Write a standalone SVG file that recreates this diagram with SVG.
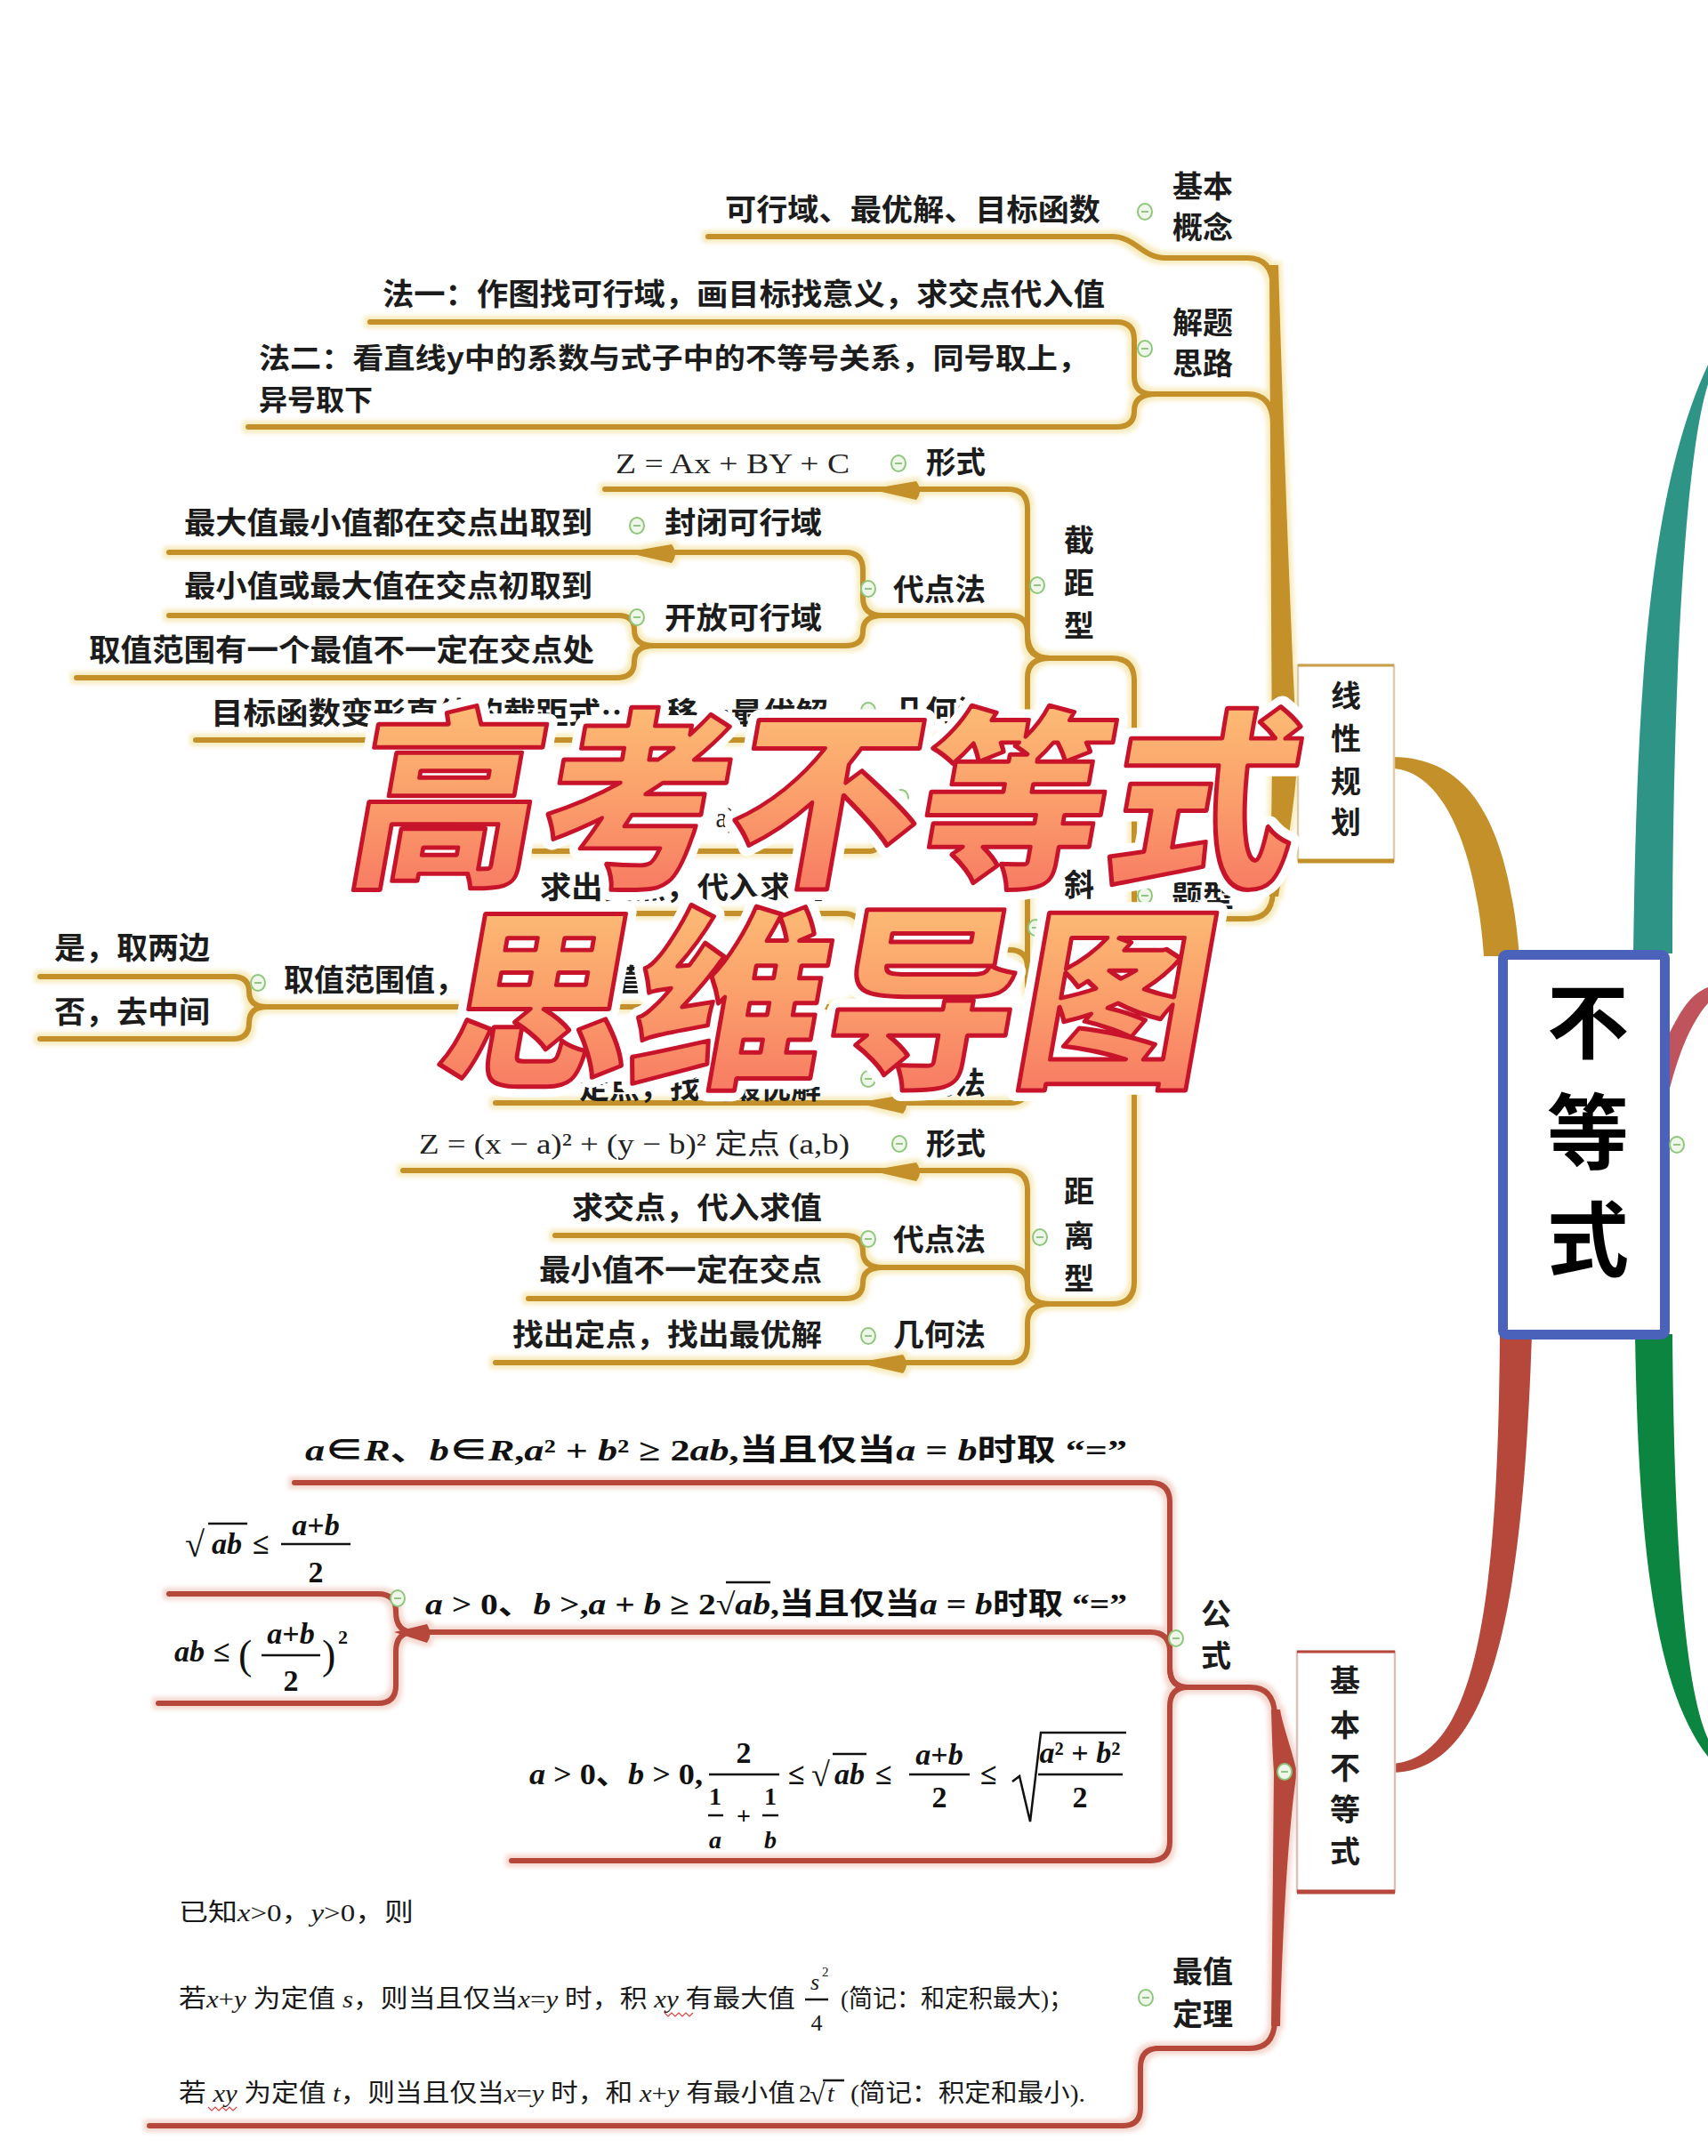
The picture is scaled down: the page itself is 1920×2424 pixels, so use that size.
<svg xmlns="http://www.w3.org/2000/svg" width="1920" height="2424" viewBox="0 0 1920 2424">
<defs>
<style>
.n{font-family:"Noto Sans CJK SC","Noto Sans CJK JP",sans-serif;font-weight:700;font-size:34px;fill:#1c1c1c}
.vc{text-anchor:middle}
.mt{font-family:"Liberation Serif","Noto Sans CJK SC",serif;font-size:32px;fill:#222}
.mb{font-family:"Liberation Serif","Noto Sans CJK SC",serif;font-weight:700;font-size:34px;fill:#111}
.sm{font-family:"Liberation Serif","Noto Sans CJK SC",serif;font-size:28px;fill:#1a1a1a}
.i{font-style:italic}
.gl path{fill:none;stroke:#c4902a;stroke-width:6;stroke-linecap:round;stroke-linejoin:round}
.rl path{fill:none;stroke:#b5473b;stroke-width:6;stroke-linecap:round;stroke-linejoin:round}
.gw path{fill:#c4902a}
.rw path{fill:#b5473b}
.ctr{font-family:"Noto Sans CJK SC",sans-serif;font-weight:700;font-size:92px;fill:#000;text-anchor:middle}
.tt{font-family:"Noto Sans CJK SC",sans-serif;font-weight:900;text-anchor:middle}
.ln{stroke:#111;stroke-width:2.5;fill:none}
</style>
<g id="cc"><ellipse rx="8" ry="9" fill="#eef7ea" stroke="#8ec77c" stroke-width="2"/><path d="M-4,0H4" stroke="#7fb86d" stroke-width="1.6"/></g>
<filter id="gG" x="-3%" y="-5%" width="106%" height="110%" color-interpolation-filters="sRGB">
<feMorphology in="SourceAlpha" operator="dilate" radius="4" result="d"/>
<feGaussianBlur in="d" stdDeviation="2.5" result="b"/>
<feFlood flood-color="#f7ebbd"/>
<feComposite in2="b" operator="in" result="c"/>
<feMerge><feMergeNode in="c"/><feMergeNode in="SourceGraphic"/></feMerge>
</filter>
<filter id="gR" x="-3%" y="-5%" width="106%" height="110%" color-interpolation-filters="sRGB">
<feMorphology in="SourceAlpha" operator="dilate" radius="4" result="d"/>
<feGaussianBlur in="d" stdDeviation="2.5" result="b"/>
<feFlood flood-color="#f4d8d0"/>
<feComposite in2="b" operator="in" result="c"/>
<feMerge><feMergeNode in="c"/><feMergeNode in="SourceGraphic"/></feMerge>
</filter>
<linearGradient id="tg" x1="0" y1="0" x2="0" y2="1">
<stop offset="0" stop-color="#fdcc7a"/>
<stop offset="0.5" stop-color="#fba26c"/>
<stop offset="1" stop-color="#f66e60"/>
</linearGradient>
</defs>
<rect width="1920" height="2424" fill="#fff"/>

<g id="connectors">
<g id="main-branches">
<path d="M1566,851 C1650,852 1695,920 1708,1075 L1668,1075 C1660,960 1625,868 1566,864 Z" fill="#c4902a"/>
<path d="M1836,1072 C1840,800 1850,560 1920,410 L1920,432 C1892,520 1880,800 1880,1072 Z" fill="#2e9486"/>
<path d="M1875,1165 C1890,1135 1900,1118 1920,1110 L1920,1128 C1900,1150 1885,1190 1875,1232 Z" fill="#c0545c"/>
<path d="M1838,1500 C1842,1750 1862,1900 1920,1975 L1920,1955 C1895,1900 1882,1750 1880,1500 Z" fill="#0b853f"/>
<path d="M1686,1500 C1684,1800 1660,1975 1566,1983 L1566,1993 C1680,1990 1712,1800 1722,1500 Z" fill="#b5473b"/>
</g>
<g id="gold-links" filter="url(#gG)">
<g class="gl">
<path d="M796,266 H1250 C1276,266 1284,290 1310,290"/>
<path d="M1310,290 H1402 Q1430,290 1431,322"/>
<path d="M416,362 H1255 Q1275,362 1275,382 V423 Q1275,443 1295,443 H1305"/>
<path d="M279,480 H1255 Q1275,480 1275,462 Q1275,443 1300,443"/>
<path d="M1300,443 H1402 Q1430,443 1431,475"/>
<path d="M1295,1033 H1402 Q1430,1033 1431,1003"/>
<path d="M1180,740 H1250 Q1275,740 1275,765 V1010 Q1275,1033 1295,1033"/>
<path d="M1180,1125 H1250 Q1275,1125 1275,1100 V1056 Q1275,1033 1295,1033"/>
<path d="M1180,1466 H1250 Q1275,1466 1275,1441 V1056 Q1275,1033 1295,1033"/>
<path d="M680,550 H1133 Q1155,550 1155,572 V718 Q1155,740 1180,740"/>
<path d="M992,692 H1136 Q1155,692 1155,712 Q1155,740 1180,740"/>
<path d="M220,832 H1135 Q1155,832 1155,812 V762 Q1155,740 1180,740"/>
<path d="M190,621 H950 Q970,621 970,641 V672 Q970,692 992,692"/>
<path d="M735,726 H950 Q970,726 970,710 Q970,692 992,692"/>
<path d="M190,692 H695 Q713,692 713,708 Q713,726 735,726"/>
<path d="M86,762 H693 Q713,762 713,744 Q713,726 735,726"/>
<path d="M1000,927 H1133 Q1155,927 1155,949 V1103 Q1155,1125 1180,1125"/>
<path d="M600,957 H978 C994,957 994,927 1006,927"/>
<path d="M992,1068 H1135 Q1155,1068 1155,1088 V1103 Q1155,1125 1180,1125"/>
<path d="M557,1240 H1135 Q1155,1240 1155,1220 V1147 Q1155,1125 1180,1125"/>
<path d="M607,1027 H948 Q968,1027 968,1047 Q968,1068 992,1068"/>
<path d="M300,1132 H948 Q968,1132 968,1112 V1090 Q968,1068 992,1068"/>
<path d="M45,1098 H262 Q280,1098 280,1115 Q280,1132 300,1132"/>
<path d="M45,1168 H262 Q280,1168 280,1150 Q280,1132 300,1132"/>
<path d="M453,1316 H1133 Q1155,1316 1155,1338 V1444 Q1155,1466 1180,1466"/>
<path d="M992,1425 H1135 Q1155,1425 1155,1445 Q1155,1466 1180,1466"/>
<path d="M557,1532 H1135 Q1155,1532 1155,1510 V1488 Q1155,1466 1180,1466"/>
<path d="M624,1389 H950 Q970,1389 970,1407 Q970,1425 992,1425"/>
<path d="M594,1460 H950 Q970,1460 970,1442 Q970,1425 992,1425"/>
</g>
<g class="gw">
<path d="M1427,298 C1428,500 1429,700 1430,858 C1429,940 1428,990 1427,1008 L1437,1008 C1446,960 1456,900 1458,858 C1456,800 1446,600 1437,298 Z"/>
<path d="M978,550 L1030,541 Q1038,552 1030,562 Z"/>
<path d="M703,621 L755,612 Q763,623 755,633 Z"/>
<path d="M968,832 L1020,823 Q1028,834 1020,844 Z"/>
<path d="M963,1240 L1015,1231 Q1023,1242 1015,1252 Z"/>
<path d="M978,1316 L1030,1307 Q1038,1318 1030,1328 Z"/>
<path d="M963,1532 L1015,1523 Q1023,1534 1015,1544 Z"/>
</g>
</g>
<g id="red-links" filter="url(#gR)">
<g class="rl">
<path d="M331,1667 H1293 Q1315,1667 1315,1689 V1875 Q1315,1897 1335,1897"/>
<path d="M465,1835 H1293 Q1315,1835 1315,1857 V1875 Q1315,1897 1335,1897"/>
<path d="M575,2092 H1293 Q1315,2092 1315,2070 V1919 Q1315,1897 1335,1897"/>
<path d="M190,1792 H425 Q445,1792 445,1812 Q445,1835 465,1835"/>
<path d="M178,1915 H425 Q445,1915 445,1895 V1857 Q445,1835 465,1835"/>
<path d="M1335,1897 H1405 Q1432,1897 1433,1928"/>
<path d="M168,2390 H1262 Q1282,2390 1282,2370 V2325 Q1282,2303 1302,2303"/>
<path d="M1300,2303 H1405 Q1432,2303 1433,2272"/>
</g>
<g class="rw">
<path d="M1429,1922 C1430,1960 1431,1980 1432,1992 C1431,2100 1430,2200 1429,2278 L1439,2278 C1442,2150 1450,2040 1458,1992 C1450,1960 1442,1940 1439,1922 Z"/>
<path d="M443,1835 L480,1826 Q487,1837 480,1847 Z"/>
</g>
</g>
</g>

<g id="node-center">
<rect x="1689.5" y="1073.5" width="182" height="427" rx="4" fill="#fff" stroke="#4a62b9" stroke-width="11"/>
<text class="ctr" x="1785" y="1183">不</text>
<text class="ctr" x="1785" y="1307">等</text>
<text class="ctr" x="1785" y="1428">式</text>
<use href="#cc" x="1885" y="1287"/>
</g>

<g id="node-xianxingguihua">
<rect x="1459" y="748" width="108" height="220" fill="#fff" stroke="#dccda8" stroke-width="2.5"/>
<path d="M1459,748H1567" stroke="#c9a04a" stroke-width="3"/>
<path d="M1459,968H1567" stroke="#c4902a" stroke-width="5"/>
<text class="n vc" x="1513" y="795">线</text>
<text class="n vc" x="1513" y="843">性</text>
<text class="n vc" x="1513" y="891">规</text>
<text class="n vc" x="1513" y="937">划</text>
</g>

<g id="node-jibengainian">
<text class="n vc" x="1352" y="222">基本</text>
<text class="n vc" x="1352" y="268">概念</text>
<use href="#cc" x="1287" y="238"/>
<text class="n" x="815" y="248" textLength="422" lengthAdjust="spacingAndGlyphs">可行域、最优解、目标函数</text>
</g>

<g id="node-jietisilu">
<text class="n vc" x="1352" y="375">解题</text>
<text class="n vc" x="1352" y="421">思路</text>
<use href="#cc" x="1287" y="392"/>
<text class="n" x="430" y="343" textLength="812" lengthAdjust="spacingAndGlyphs">法一：作图找可行域，画目标找意义，求交点代入值</text>
<text class="n" style="font-size:32px"><tspan x="291" y="414" textLength="933" lengthAdjust="spacingAndGlyphs">法二：看直线y中的系数与式子中的不等号关系，同号取上，</tspan><tspan x="291" y="461">异号取下</tspan></text>
</g>

<g id="node-tixing">
<text class="n" x="1317" y="1020" textLength="70" lengthAdjust="spacingAndGlyphs">题型</text>
<use href="#cc" x="1287" y="1007"/>
</g>

<g id="node-jiejuxing">
<text class="n vc" x="1213" y="620">截</text>
<text class="n vc" x="1213" y="668">距</text>
<text class="n vc" x="1213" y="716">型</text>
<use href="#cc" x="1166" y="658"/>
<text class="n" x="1041" y="532" textLength="67" lengthAdjust="spacingAndGlyphs">形式</text>
<use href="#cc" x="1010" y="521"/>
<text class="mt" x="692" y="532" textLength="263" lengthAdjust="spacingAndGlyphs">Z = Ax + BY + C</text>
<text class="n" x="1004" y="675" textLength="104" lengthAdjust="spacingAndGlyphs">代点法</text>
<use href="#cc" x="976" y="662"/>
<text class="n" x="747" y="600" textLength="177" lengthAdjust="spacingAndGlyphs">封闭可行域</text>
<use href="#cc" x="716" y="591"/>
<text class="n" x="207" y="600" textLength="459" lengthAdjust="spacingAndGlyphs">最大值最小值都在交点出取到</text>
<text class="n" x="747" y="707" textLength="177" lengthAdjust="spacingAndGlyphs">开放可行域</text>
<use href="#cc" x="716" y="694"/>
<text class="n" x="207" y="671" textLength="459" lengthAdjust="spacingAndGlyphs">最小值或最大值在交点初取到</text>
<text class="n" x="100" y="743" textLength="568" lengthAdjust="spacingAndGlyphs">取值范围有一个最值不一定在交点处</text>
<text class="n" x="1005" y="812" textLength="106" lengthAdjust="spacingAndGlyphs">几何法</text>
<use href="#cc" x="976" y="799"/>
<text class="n" x="237" y="814" textLength="694" lengthAdjust="spacingAndGlyphs">目标函数变形直线的截距式…平移…最优解</text>
</g>

<g id="node-xielvxing">
<text class="n vc" x="1213" y="1007">斜</text>
<text class="n vc" x="1213" y="1053">率</text>
<text class="n vc" x="1213" y="1099">型</text>
<use href="#cc" x="1164" y="1043"/>
<text class="n" x="1041" y="908" textLength="67" lengthAdjust="spacingAndGlyphs">形式</text>
<use href="#cc" x="1013" y="897"/>
<text class="mt" x="612" y="930" textLength="343" lengthAdjust="spacingAndGlyphs">Z = (y − b)/(x − a) 定点 (a,b)</text>
<text class="n" x="1004" y="1058" textLength="104" lengthAdjust="spacingAndGlyphs">代点法</text>
<use href="#cc" x="976" y="1045"/>
<text class="n" x="607" y="1010" textLength="318" lengthAdjust="spacingAndGlyphs">求出交点，代入求值</text>
<text class="n" x="319" y="1114">取值范围值，是否包含竖直线</text>
<use href="#cc" x="290" y="1105"/>
<text class="n" x="61" y="1078" textLength="175" lengthAdjust="spacingAndGlyphs">是，取两边</text>
<text class="n" x="61" y="1150" textLength="175" lengthAdjust="spacingAndGlyphs">否，去中间</text>
<text class="n" x="1004" y="1230" textLength="104" lengthAdjust="spacingAndGlyphs">几何法</text>
<use href="#cc" x="976" y="1213"/>
<text class="n" x="651" y="1235" textLength="272" lengthAdjust="spacingAndGlyphs">定点，找出最优解</text>
</g>

<g id="node-julixing">
<text class="n vc" x="1213" y="1352">距</text>
<text class="n vc" x="1213" y="1402">离</text>
<text class="n vc" x="1213" y="1450">型</text>
<use href="#cc" x="1169" y="1391"/>
<text class="n" x="1041" y="1298" textLength="67" lengthAdjust="spacingAndGlyphs">形式</text>
<use href="#cc" x="1011" y="1286"/>
<text class="mt" x="471" y="1297" textLength="484" lengthAdjust="spacingAndGlyphs">Z = (x − a)² + (y − b)² 定点 (a,b)</text>
<text class="n" x="1004" y="1406" textLength="104" lengthAdjust="spacingAndGlyphs">代点法</text>
<use href="#cc" x="976" y="1393"/>
<text class="n" x="643" y="1370" textLength="281" lengthAdjust="spacingAndGlyphs">求交点，代入求值</text>
<text class="n" x="606" y="1440" textLength="318" lengthAdjust="spacingAndGlyphs">最小值不一定在交点</text>
<text class="n" x="1004" y="1513" textLength="104" lengthAdjust="spacingAndGlyphs">几何法</text>
<use href="#cc" x="976" y="1502"/>
<text class="n" x="576" y="1513" textLength="348" lengthAdjust="spacingAndGlyphs">找出定点，找出最优解</text>
</g>

<g id="node-jibenbudengshi">
<rect x="1458" y="1857" width="110" height="270" fill="#fff" stroke="#dcc1ba" stroke-width="2.5"/>
<path d="M1458,1857H1568" stroke="#b5473b" stroke-width="3"/>
<path d="M1458,2127H1568" stroke="#b5473b" stroke-width="5"/>
<text class="n vc" x="1512" y="1902">基</text>
<text class="n vc" x="1512" y="1952">本</text>
<text class="n vc" x="1512" y="2000">不</text>
<text class="n vc" x="1512" y="2047">等</text>
<text class="n vc" x="1512" y="2094">式</text>
<use href="#cc" x="1444" y="1992"/>
</g>

<g id="node-gongshi">
<text class="n vc" x="1367" y="1827">公</text>
<text class="n vc" x="1367" y="1874">式</text>
<use href="#cc" x="1322" y="1842"/>
<text class="mb" x="343" y="1642" textLength="924" lengthAdjust="spacingAndGlyphs"><tspan class="i">a</tspan>∈<tspan class="i">R</tspan>、<tspan class="i">b</tspan>∈<tspan class="i">R</tspan>,<tspan class="i">a</tspan>² + <tspan class="i">b</tspan>² ≥ 2<tspan class="i">ab</tspan>,当且仅当<tspan class="i">a</tspan> = <tspan class="i">b</tspan>时取 “=”</text>
<text class="mb" x="478" y="1815" textLength="789" lengthAdjust="spacingAndGlyphs"><tspan class="i">a</tspan> &gt; 0、<tspan class="i">b</tspan> &gt;,<tspan class="i">a</tspan> + <tspan class="i">b</tspan> ≥ 2√<tspan class="i">ab</tspan>,当且仅当<tspan class="i">a</tspan> = <tspan class="i">b</tspan>时取 “=”</text>
<path class="ln" d="M816,1779H866" stroke-width="2"/>
<use href="#cc" x="447" y="1797"/>
<text class="mb" x="208" y="1750" style="font-weight:400;font-size:40px">√</text>
<path class="ln" d="M234,1713H278" stroke-width="2"/>
<text class="mb i" x="238" y="1747">ab</text>
<text class="mb" x="284" y="1747">≤</text>
<text class="mb vc" x="355" y="1726"><tspan class="i">a</tspan>+<tspan class="i">b</tspan></text>
<path class="ln" d="M316,1736H394"/>
<text class="mb vc" x="355" y="1779">2</text>
<text class="mb i" x="196" y="1868">ab</text>
<text class="mb" x="240" y="1868">≤</text>
<text class="mb" x="268" y="1876" style="font-weight:400;font-size:46px">(</text>
<text class="mb vc" x="327" y="1848"><tspan class="i">a</tspan>+<tspan class="i">b</tspan></text>
<path class="ln" d="M294,1861H360"/>
<text class="mb vc" x="327" y="1901">2</text>
<text class="mb" x="362" y="1876" style="font-weight:400;font-size:46px">)</text>
<text class="mb" x="380" y="1848" style="font-size:22px">2</text>
<text class="mb" x="595" y="2006" textLength="195" lengthAdjust="spacingAndGlyphs"><tspan class="i">a</tspan> &gt; 0、<tspan class="i">b</tspan> &gt; 0,</text>
<text class="mb vc" x="836" y="1982">2</text>
<path class="ln" d="M797,1995H876"/>
<text class="mb vc" x="804" y="2029" style="font-size:28px">1</text>
<path class="ln" d="M796,2041H813" stroke-width="1.8"/>
<text class="mb vc i" x="804" y="2078" style="font-size:28px">a</text>
<text class="mb vc" x="836" y="2051" style="font-size:28px">+</text>
<text class="mb vc" x="866" y="2029" style="font-size:28px">1</text>
<path class="ln" d="M857,2041H875" stroke-width="1.8"/>
<text class="mb vc i" x="866" y="2078" style="font-size:28px">b</text>
<text class="mb" x="886" y="2006">≤</text>
<text class="mb" x="912" y="2008" style="font-weight:400;font-size:38px">√</text>
<path class="ln" d="M936,1972H974" stroke-width="2"/>
<text class="mb i" x="938" y="2006">ab</text>
<text class="mb" x="984" y="2006">≤</text>
<text class="mb vc" x="1056" y="1984"><tspan class="i">a</tspan>+<tspan class="i">b</tspan></text>
<path class="ln" d="M1022,1995H1090"/>
<text class="mb vc" x="1056" y="2032">2</text>
<text class="mb" x="1102" y="2006">≤</text>
<path class="ln" d="M1138,2003 L1146,1997 L1158,2048 L1170,1948 H1266"/>
<text class="mb vc" x="1214" y="1982"><tspan class="i">a</tspan>² + <tspan class="i">b</tspan>²</text>
<path class="ln" d="M1167,1995H1262"/>
<text class="mb vc" x="1214" y="2032">2</text>
</g>

<g id="node-zuizhidingli">
<text class="n vc" x="1352" y="2229">最值</text>
<text class="n vc" x="1352" y="2277">定理</text>
<use href="#cc" x="1288" y="2246"/>
<text class="sm" x="201" y="2160" textLength="264" lengthAdjust="spacingAndGlyphs">已知<tspan class="i">x</tspan>&gt;0，<tspan class="i">y</tspan>&gt;0，则</text>
<text class="sm" x="201" y="2257" textLength="693" lengthAdjust="spacingAndGlyphs">若<tspan class="i">x</tspan>+<tspan class="i">y</tspan> 为定值 <tspan class="i">s</tspan>，则当且仅当<tspan class="i">x</tspan>=<tspan class="i">y</tspan> 时，积 <tspan class="i">xy</tspan> 有最大值</text>
<text class="sm vc i" x="916" y="2237" style="font-size:26px">s</text>
<text class="sm" x="924" y="2222" style="font-size:15px">2</text>
<path class="ln" d="M905,2248H931" stroke-width="1.5"/>
<text class="sm vc" x="918" y="2283" style="font-size:26px">4</text>
<text class="sm" x="945" y="2257" textLength="261" lengthAdjust="spacingAndGlyphs">(简记：和定积最大)；</text>
<text class="sm" x="201" y="2363" textLength="693" lengthAdjust="spacingAndGlyphs">若 <tspan class="i">xy</tspan> 为定值 <tspan class="i">t</tspan>，则当且仅当<tspan class="i">x</tspan>=<tspan class="i">y</tspan> 时，和 <tspan class="i">x</tspan>+<tspan class="i">y</tspan> 有最小值</text>
<text class="sm" x="898" y="2363">2</text>
<text class="sm" x="910" y="2366" style="font-size:32px">√</text>
<path class="ln" d="M925,2339H949" stroke-width="1.5"/>
<text class="sm i" x="930" y="2363">t</text>
<text class="sm" x="956" y="2363" textLength="264" lengthAdjust="spacingAndGlyphs">(简记：积定和最小).</text>
<path d="M747,2263 l4,4 4,-4 4,4 4,-4 4,4 4,-4 4,4 4,-4" fill="none" stroke="#d04444" stroke-width="1.2"/>
<path d="M234,2369 l4,4 4,-4 4,4 4,-4 4,4 4,-4 4,4 4,-4" fill="none" stroke="#d04444" stroke-width="1.2"/>
</g>

<g id="title" class="tt">
<g transform="translate(916,980) skewX(-10)">
<text font-size="216" textLength="1062" lengthAdjust="spacingAndGlyphs" fill="#fff" stroke="#fff" stroke-width="24" stroke-linejoin="round">高考不等式</text>
<text font-size="216" textLength="1062" lengthAdjust="spacingAndGlyphs" fill="url(#tg)" stroke="#c8142a" stroke-width="5" stroke-linejoin="round">高考不等式</text>
</g>
<g transform="translate(918,1205) skewX(-10)">
<text font-size="218" textLength="864" lengthAdjust="spacingAndGlyphs" fill="#fff" stroke="#fff" stroke-width="24" stroke-linejoin="round">思维导图</text>
<text font-size="218" textLength="864" lengthAdjust="spacingAndGlyphs" fill="url(#tg)" stroke="#c8142a" stroke-width="5" stroke-linejoin="round">思维导图</text>
</g>
</g>
</svg>
